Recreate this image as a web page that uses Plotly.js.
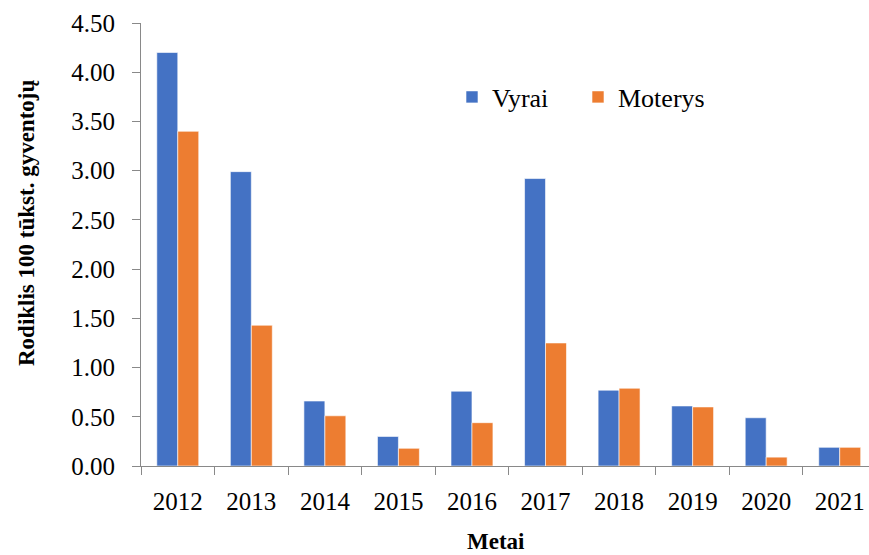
<!DOCTYPE html>
<html>
<head>
<meta charset="utf-8">
<script src="https://cdn.plot.ly/plotly-3.0.1.min.js"></script>
<style>html,body{margin:0;padding:0;background:#fff;}#chart{width:869px;height:555px;}</style>
</head>
<body>
<div id="chart"></div>
<script>
const years = ["2012","2013","2014","2015","2016","2017","2018","2019","2020","2021"];
const vyrai = [4.20, 2.99, 0.66, 0.30, 0.76, 2.92, 0.77, 0.61, 0.49, 0.19];
const moterys = [3.40, 1.43, 0.51, 0.18, 0.44, 1.25, 0.79, 0.60, 0.09, 0.19];
const seriesNames = ["Vyrai", "Moterys"];
const yTitle = "Rodiklis 100 tūkst. gyventojų";
const xTitle = "Metai";

const W = 869, H = 555;
const mL = 141, mR = 0, mT = 23, mB = 89;
const plotW = W - mL - mR;
const font = "Liberation Serif";

const traces = [
  {type:"bar", name:seriesNames[0], x:years, y:vyrai,
   marker:{color:"#4472C4", line:{color:"#ffffff", width:0.6}}},
  {type:"bar", name:seriesNames[1], x:years, y:moterys,
   marker:{color:"#ED7D31", line:{color:"#ffffff", width:0.6}}}
];

const layout = {
  width:W, height:H,
  margin:{l:mL, r:mR, t:mT, b:mB},
  paper_bgcolor:"#fff", plot_bgcolor:"#fff",
  font:{family:font, color:"#000", size:25},
  barmode:"group", bargap:0.43, bargroupgap:0,
  showlegend:true,
  legend:{orientation:"h", x:(452-mL)/plotW, y:(H-mB-97)/(H-mT-mB), xanchor:"left", yanchor:"middle",
          font:{family:font, size:26, color:"#000"}, bgcolor:"rgba(0,0,0,0)", entrywidth:81},
  xaxis:{type:"category", range:[-0.5, -0.5 + plotW/73.55], tickson:"boundaries",
         ticks:"outside", ticklen:8, tickcolor:"#898989", showline:true, linecolor:"#898989", linewidth:1,
         showgrid:false, zeroline:false, tickfont:{family:font, size:25, color:"#000"}, ticklabelstandoff:13, fixedrange:true},
  yaxis:{range:[0,4.5], dtick:0.5, tick0:0, tickformat:".2f", ticks:"outside", ticklen:8, tickcolor:"#898989",
         showline:true, linecolor:"#898989", linewidth:1, showgrid:false, zeroline:false,
         tickfont:{family:font, size:25, color:"#000"}, ticklabelstandoff:12, fixedrange:true},
  annotations:[
    {text:"<b>"+yTitle+"</b>", xref:"paper", yref:"paper", x:(27-mL)/plotW, y:(H-mB-223)/(H-mT-mB),
     textangle:-90, showarrow:false, font:{family:font, size:23, color:"#000"}, xanchor:"center", yanchor:"middle"},
    {text:"<b>"+xTitle+"</b>", xref:"paper", yref:"paper", x:(496-mL)/plotW, y:(H-mB-541)/(H-mT-mB),
     showarrow:false, font:{family:font, size:23, color:"#000"}, xanchor:"center", yanchor:"middle"}
  ]
};

Plotly.newPlot("chart", traces, layout, {displayModeBar:false, staticPlot:true});
</script>
</body>
</html>
